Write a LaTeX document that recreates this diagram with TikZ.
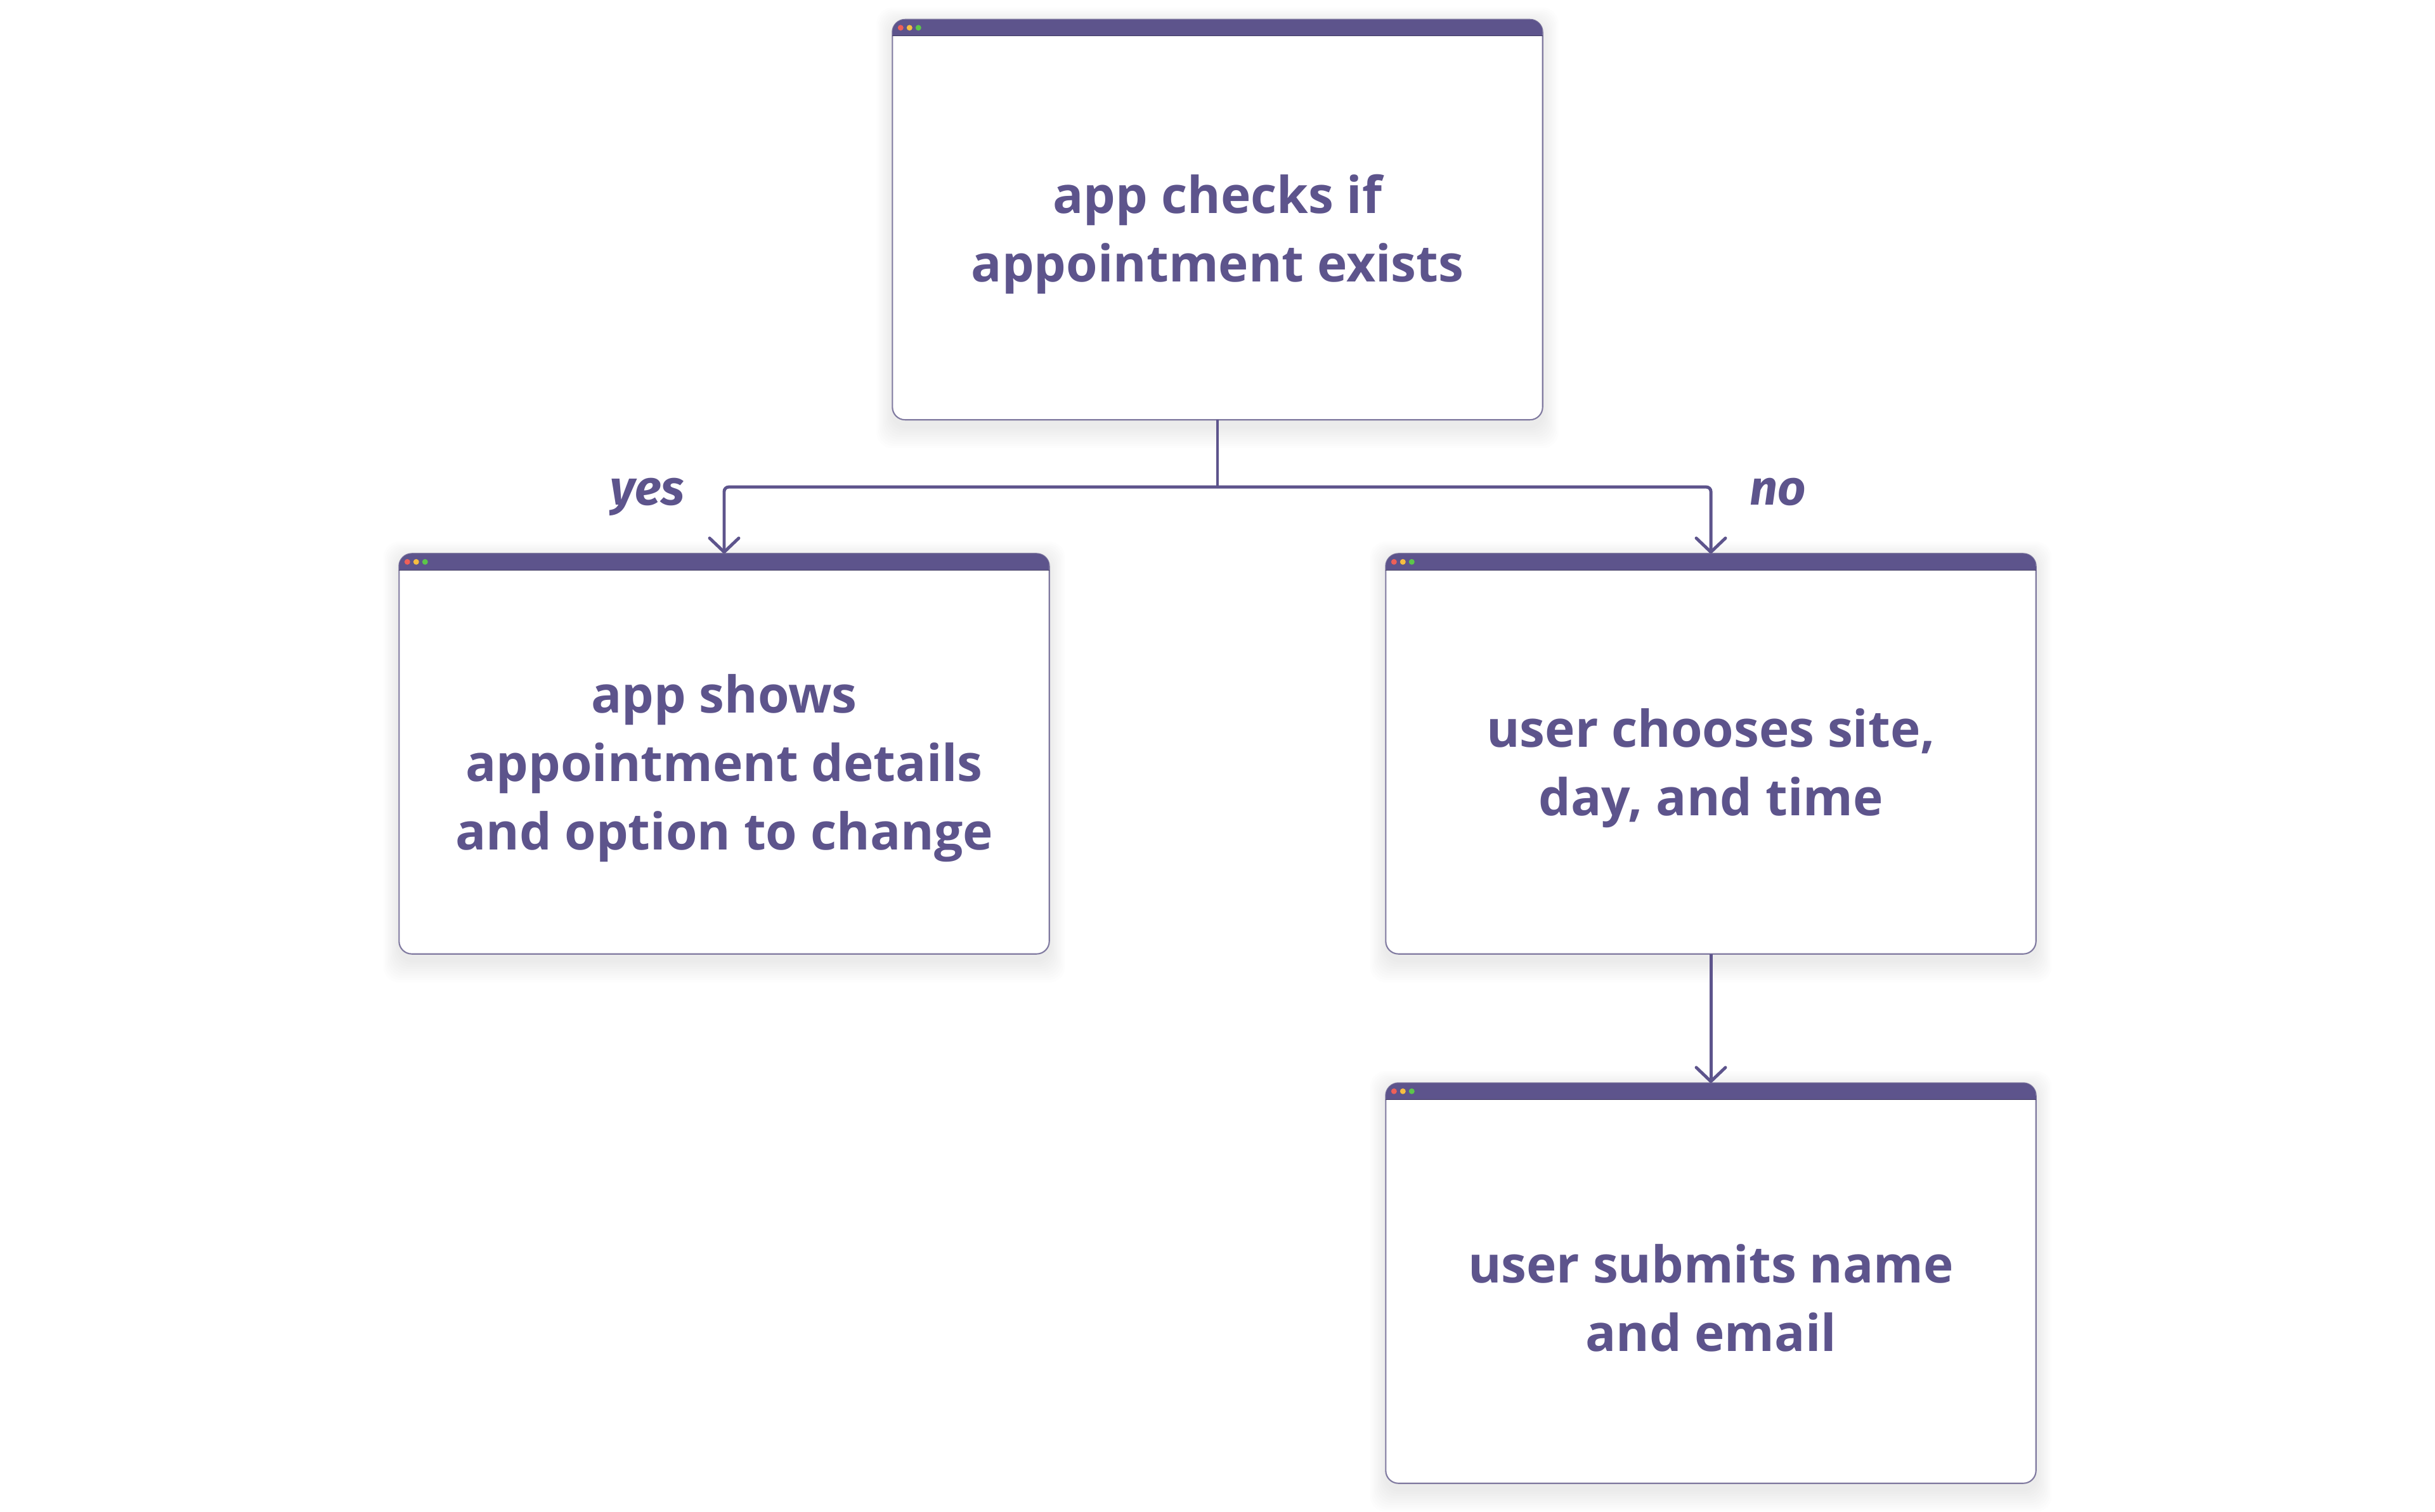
\documentclass[tikz,border=0pt]{standalone}
\usepackage{fontspec}
\setmainfont{Open Sans}
\newfontfamily\labelfont{Fira Sans}
\usetikzlibrary{arrows.meta}
\pgfdeclarelayer{background}
\pgfsetlayers{background,main}

\begin{document}
\begin{tikzpicture}[
    window/.style={minimum width=10.24cm, minimum height=5.84cm, align=center,
        text=ink, font=\fontsize{22.8}{30.7}\selectfont\bfseries},
    flow/.style={line width=1.4pt, draw=ink, rounded corners=0.07cm},
    answer/.style={text=ink, anchor=base, font=\fontsize{22}{26}\selectfont\labelfont\bfseries\itshape}
]
    % Define colors
    \definecolor{ink}{RGB}{93, 84, 140}
    \definecolor{frame}{RGB}{128, 122, 160}
    \definecolor{dotred}{RGB}{238, 96, 88}
    \definecolor{dotyellow}{RGB}{246, 190, 64}
    \definecolor{dotgreen}{RGB}{92, 198, 74}

    \useasboundingbox (0,0) rectangle (38.4,-23.85);

    % Windows
    \node[window] (check)  at (19.2,-3.695) {app checks if\\appointment exists};
    \node[window] (shows)  at (11.42,-12.12) {app shows\\appointment details\\and option to change};
    \node[window] (choose) at (26.98,-12.12) {user chooses site,\\day, and time};
    \node[window] (submit) at (26.98,-20.47) {user submits name\\and email};

    % Frames, title bars and buttons
    \foreach \w in {check,shows,choose,submit} {
        \begin{pgfonlayer}{background}
            \foreach \s in {1,...,10}
                \fill[black, opacity=0.009, rounded corners=0.25cm]
                    ([shift={(-\s*0.025cm,0.4cm+\s*0.025cm)}]\w.north west)
                    rectangle ([shift={(\s*0.025cm,-0.1cm-\s*0.035cm)}]\w.south east);
            \draw[fill=white, draw=frame, line width=0.6pt, rounded corners=0.2cm]
                ([yshift=0.46cm]\w.north west) rectangle (\w.south east);
        \end{pgfonlayer}
        \begin{scope}
            \clip[rounded corners=0.2cm] ([yshift=0.46cm]\w.north west) rectangle (\w.south east);
            \fill[ink] ([yshift=0.2cm]\w.north west) rectangle ([yshift=0.46cm]\w.north east);
        \end{scope}
        \draw[ink!70!black, line width=0.4pt] ([yshift=0.2cm]\w.north west) -- ([yshift=0.2cm]\w.north east);
        \foreach \c [count=\i] in {dotred,dotyellow,dotgreen}
            \fill[\c] ([shift={(0.13cm+\i*0.14cm-0.14cm,0.33cm)}]\w.north west) circle (0.045cm);
    }

    % Connectors
    \coordinate (fork) at ([yshift=-1.06cm]check.south);
    \draw[flow] (check.south) -- (fork);
    \draw[flow, -{Straight Barb[length=0.22cm, width=0.46cm, round]}]
        (fork) -| ([yshift=0.46cm]shows.north);
    \draw[flow, -{Straight Barb[length=0.22cm, width=0.46cm, round]}]
        (fork) -| ([yshift=0.46cm]choose.north);
    \draw[flow, -{Straight Barb[length=0.22cm, width=0.46cm, round]}]
        (choose.south) -- ([yshift=0.46cm]submit.north);

    % Answers
    \node[answer] (yes) at (10.21,-7.96) {yes};
    \node[answer] (no)  at (28.04,-7.96) {no};
\end{tikzpicture}
\end{document}
